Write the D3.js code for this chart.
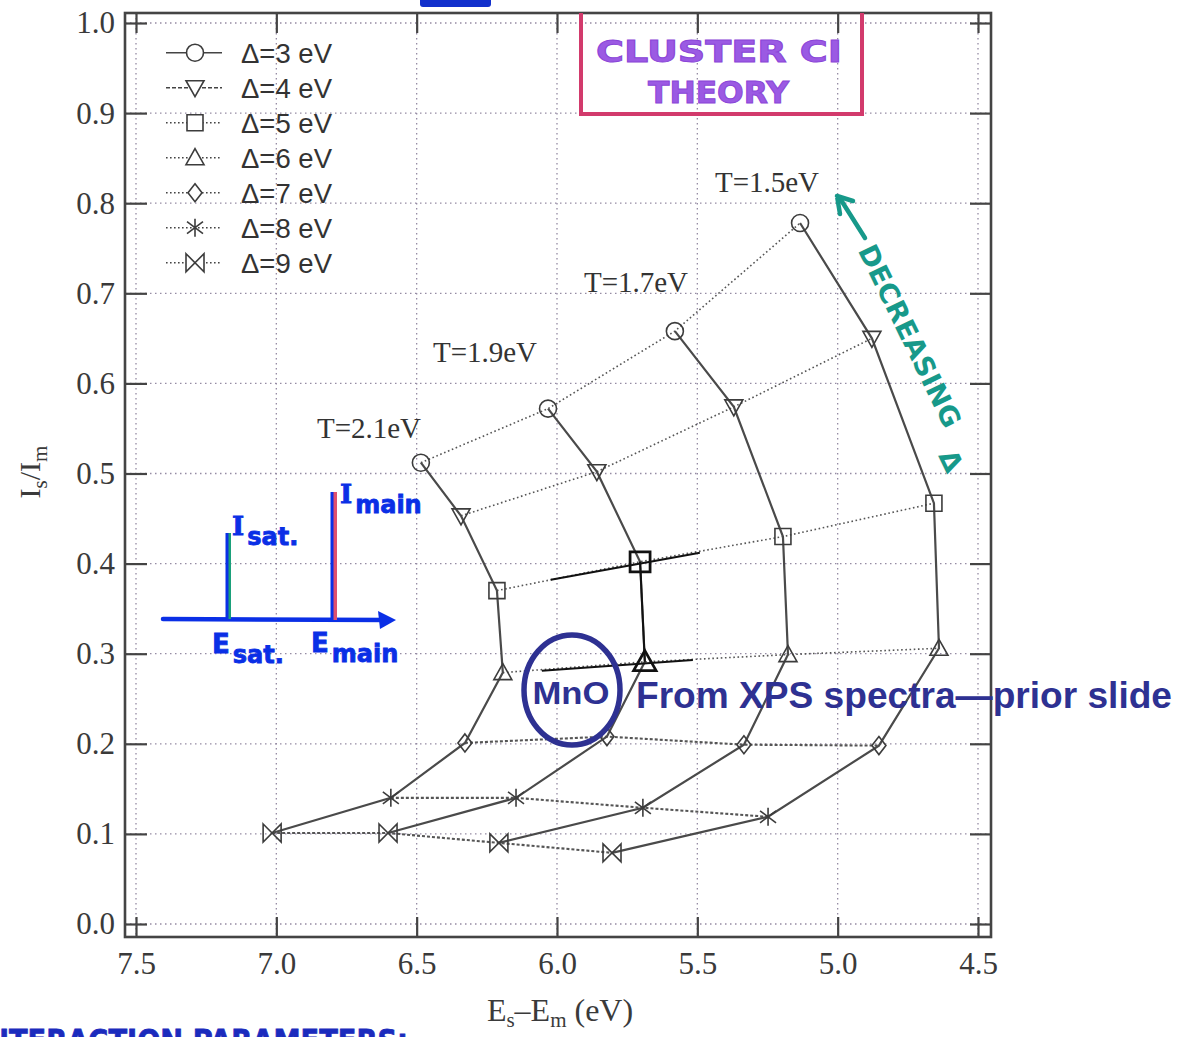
<!DOCTYPE html>
<html>
<head>
<meta charset="utf-8">
<script src="https://cdn.jsdelivr.net/npm/d3@7"></script>
<style>
  body { margin: 0; background: #fff; }
  svg { display: block; }
</style>
</head>
<body>
<svg id="chart"></svg>
<script>
// ---- data ----
const deltaLabels = ['Δ=3 eV', 'Δ=4 eV', 'Δ=5 eV', 'Δ=6 eV', 'Δ=7 eV', 'Δ=8 eV', 'Δ=9 eV'];
const tLabels = ['T=2.1eV', 'T=1.9eV', 'T=1.7eV', 'T=1.5eV'];

// Es-Em (eV) and Is/Im for Δ = 3..9, one pair of arrays per T
const splitT21 = [6.485, 6.342, 6.214, 6.193, 6.328, 6.592, 7.015];
const ratioT21 = [0.512, 0.453, 0.370, 0.279, 0.201, 0.140, 0.101];
const splitT19 = [6.032, 5.858, 5.704, 5.687, 5.822, 6.146, 6.602];
const ratioT19 = [0.572, 0.502, 0.402, 0.291, 0.208, 0.140, 0.101];
const splitT17 = [5.580, 5.370, 5.195, 5.177, 5.334, 5.694, 6.207];
const ratioT17 = [0.658, 0.574, 0.430, 0.299, 0.199, 0.129, 0.090];
const splitT15 = [5.134, 4.878, 4.657, 4.639, 4.853, 5.248, 5.804];
const ratioT15 = [0.778, 0.650, 0.467, 0.306, 0.198, 0.119, 0.079];

// hand-drawn MnO marks over the Δ=5 and Δ=6 lines
const mnoSplitD5 = [6.022, 5.491];
const mnoRatioD5 = [0.382, 0.412];
const mnoSplitD6 = [6.054, 5.516];
const mnoRatioD6 = [0.281, 0.293];

const xTicks = [7.5, 7.0, 6.5, 6.0, 5.5, 5.0, 4.5];
const yTicks = [0, 0.1, 0.2, 0.3, 0.4, 0.5, 0.6, 0.7, 0.8, 0.9, 1.0];

// ---- layout ----
const W = 1178, H = 1037;
const frame = { left: 125, right: 991, top: 13, bottom: 937 };
const ink = '#444';
const serif = '"Liberation Serif", "DejaVu Serif", serif';
const sans = '"Liberation Sans", Arial, sans-serif';
const hand = '"DejaVu Sans", sans-serif';

const svg = d3.select('#chart').attr('width', W).attr('height', H);

const x = d3.scaleLinear().domain([7.5, 4.5]).range([136, 978]);
const y = d3.scaleLinear().domain([0, 1]).range([924, 23]);

// grid
const grid = svg.append('g').attr('class', 'grid')
    .attr('stroke', '#958ba3').attr('stroke-width', 1.3).attr('stroke-dasharray', '1.5,3.5');
grid.selectAll('.gx').data(xTicks).enter().append('line')
    .attr('x1', d => x(d)).attr('x2', d => x(d))
    .attr('y1', frame.top).attr('y2', frame.bottom);
grid.selectAll('.gy').data(yTicks).enter().append('line')
    .attr('x1', frame.left).attr('x2', frame.right)
    .attr('y1', d => y(d)).attr('y2', d => y(d));

// axes (inward ticks on all four sides)
function styleAxis(g) {
    g.select('.domain').remove();
    g.selectAll('.tick line').attr('stroke', ink).attr('stroke-width', 2.2);
    g.selectAll('.tick text')
        .attr('fill', '#3a3a3a')
        .style('font-family', serif)
        .style('font-size', '31px');
}

svg.append('g')
    .attr('transform', `translate(0, ${frame.bottom})`)
    .call(d3.axisBottom(x).tickValues(xTicks).tickFormat(d3.format('.1f'))
        .tickSize(-20).tickPadding(15))
    .call(styleAxis);
svg.append('g')
    .attr('transform', `translate(0, ${frame.top})`)
    .call(d3.axisTop(x).tickValues(xTicks).tickFormat('').tickSize(-20))
    .call(styleAxis);
svg.append('g')
    .attr('transform', `translate(${frame.left}, 0)`)
    .call(d3.axisLeft(y).tickValues(yTicks).tickFormat(d3.format('.1f'))
        .tickSize(-22).tickPadding(10))
    .call(styleAxis);
svg.append('g')
    .attr('transform', `translate(${frame.right}, 0)`)
    .call(d3.axisRight(y).tickValues(yTicks).tickFormat('').tickSize(-21))
    .call(styleAxis);

svg.append('rect')
    .attr('x', frame.left).attr('y', frame.top)
    .attr('width', frame.right - frame.left).attr('height', frame.bottom - frame.top)
    .attr('fill', 'none').attr('stroke', ink).attr('stroke-width', 2.6);

// axis titles
const xTitle = svg.append('text')
    .attr('x', 560).attr('y', 1021).attr('text-anchor', 'middle')
    .attr('fill', '#3a3a3a').style('font-family', serif).style('font-size', '32px');
xTitle.append('tspan').text('E');
xTitle.append('tspan').attr('dy', 6).style('font-size', '21px').text('s');
xTitle.append('tspan').attr('dy', -6).text('–E');
xTitle.append('tspan').attr('dy', 6).style('font-size', '21px').text('m');
xTitle.append('tspan').attr('dy', -6).text(' (eV)');

const yTitle = svg.append('text')
    .attr('transform', 'translate(40, 472) rotate(-90)').attr('text-anchor', 'middle')
    .attr('fill', '#3a3a3a').style('font-family', serif).style('font-size', '30px');
yTitle.append('tspan').text('I');
yTitle.append('tspan').attr('dy', 7).style('font-size', '21px').text('s');
yTitle.append('tspan').attr('dy', -7).text('/I');
yTitle.append('tspan').attr('dy', 7).style('font-size', '21px').text('m');

// ---- markers ----
const markerPaths = [
    'M-8.5,0A8.5,8.5 0 1,1 8.5,0A8.5,8.5 0 1,1 -8.5,0Z', // circle
    'M-9,-7L9,-7L0,9Z',                                  // triangle down
    'M-8,-8H8V8H-8Z',                                    // square
    'M0,-9L9,7L-9,7Z',                                   // triangle up
    'M0,-9L7,0L0,9L-7,0Z',                               // diamond
    'M0,-9V9M-8,-6L8,6M-8,6L8,-6',                       // star
    'M-9,-9L9,9V-9L-9,9Z'                                // bowtie
];

const splits = [splitT21, splitT19, splitT17, splitT15];
const ratios = [ratioT21, ratioT19, ratioT17, ratioT15];
const tSeries = splits.map((xs, i) => xs.map((v, j) => ({ x: v, y: ratios[i][j], k: j })));

const line = d3.line().x(d => x(d.x)).y(d => y(d.y));
const plot = svg.append('g').attr('class', 'plot');

// Δ lines (across T), dotted
deltaLabels.forEach((lab, j) => {
    plot.append('path')
        .datum(tSeries.map(s => s[j]))
        .attr('d', line)
        .attr('fill', 'none')
        .attr('stroke', '#555')
        .attr('stroke-width', j >= 4 ? 2.1 : 1.6)
        .attr('stroke-dasharray', j >= 4 ? '3,2' : '1.6,2.6');
});

// T lines (across Δ), solid
tSeries.forEach(s => {
    plot.append('path')
        .datum(s)
        .attr('d', line)
        .attr('fill', 'none')
        .attr('stroke', '#4a4a4a')
        .attr('stroke-width', 2.2);
});

// hand-drawn black marks for the MnO estimate
const mno = svg.append('g').attr('stroke', '#111').attr('fill', 'none').attr('stroke-width', 2);
mno.append('path').datum(tSeries[1].slice(2, 4)).attr('d', line);
mno.append('path').datum(mnoSplitD5.map((v, i) => ({ x: v, y: mnoRatioD5[i] }))).attr('d', line);
mno.append('path').datum(mnoSplitD6.map((v, i) => ({ x: v, y: mnoRatioD6[i] }))).attr('d', line);

const isMno = (i, d) => i === 1 && (d.k === 2 || d.k === 3);
tSeries.forEach((s, i) => {
    plot.selectAll(null).data(s).enter().append('path')
        .attr('transform', d => `translate(${x(d.x)}, ${y(d.y)}) scale(${isMno(i, d) ? 1.25 : 1})`)
        .attr('d', d => markerPaths[d.k])
        .attr('fill', 'none')
        .attr('stroke', d => isMno(i, d) ? '#111' : '#3c3c3c')
        .attr('stroke-width', d => isMno(i, d) ? 2.2 : 1.6);
});

// T labels
const tLabelCenters = [[369, 438], [485, 362], [636, 292], [767, 192]];
svg.selectAll('.tlab').data(tLabels).enter().append('text')
    .attr('x', (d, i) => tLabelCenters[i][0])
    .attr('y', (d, i) => tLabelCenters[i][1])
    .attr('text-anchor', 'middle')
    .attr('fill', '#333')
    .style('font-family', serif).style('font-size', '29px')
    .text(d => d);

// ---- legend ----
const legend = svg.append('g').attr('class', 'legend');
const legendRows = legend.selectAll('g').data(deltaLabels).enter().append('g')
    .attr('transform', (d, i) => `translate(0, ${52.7 + i * 35})`);
legendRows.append('line')
    .attr('x1', 166).attr('x2', 222)
    .attr('stroke', '#444').attr('stroke-width', 1.6)
    .attr('stroke-dasharray', (d, i) => i === 0 ? null : i === 1 ? '4,2' : '1.6,2.4');
legendRows.append('path')
    .attr('transform', 'translate(195, 0)')
    .attr('d', (d, i) => markerPaths[i])
    .attr('fill', '#fff').attr('stroke', '#3c3c3c').attr('stroke-width', 1.6);
legendRows.append('text')
    .attr('x', 241).attr('dy', '0.36em')
    .attr('fill', '#333')
    .style('font-family', sans).style('font-size', '27.5px')
    .text(d => d);

// ---- hand annotations ----
// blue marker scrap at the top edge
svg.append('rect').attr('x', 420).attr('y', -4).attr('width', 71).attr('height', 11)
    .attr('rx', 3).attr('fill', '#1230cc');

// "CLUSTER CI THEORY" box
svg.append('path').attr('d', 'M581,13V114H862V13')
    .attr('fill', 'none').attr('stroke', '#d23a6c').attr('stroke-width', 4);
svg.append('text').attr('x', 596).attr('y', 62).attr('textLength', 246)
    .attr('lengthAdjust', 'spacingAndGlyphs')
    .attr('fill', '#9b5ae3').attr('stroke', '#8a45d8').attr('stroke-width', 1)
    .style('font-family', hand).style('font-weight', 'bold').style('font-size', '31px')
    .text('CLUSTER CI');
svg.append('text').attr('x', 648).attr('y', 103).attr('textLength', 141)
    .attr('lengthAdjust', 'spacingAndGlyphs')
    .attr('fill', '#9b5ae3').attr('stroke', '#8a45d8').attr('stroke-width', 1)
    .style('font-family', hand).style('font-weight', 'bold').style('font-size', '31px')
    .text('THEORY');

// "← DECREASING Δ"
const teal = '#17998a';
svg.append('line').attr('x1', 865).attr('y1', 238).attr('x2', 841).attr('y2', 200)
    .attr('stroke', teal).attr('stroke-width', 4.5).attr('stroke-linecap', 'round');
svg.append('path').attr('d', 'M837,196L840,214M837,196L853,201')
    .attr('stroke', teal).attr('stroke-width', 4.5).attr('stroke-linecap', 'round').attr('fill', 'none');
svg.append('text')
    .attr('transform', 'translate(866, 246) rotate(64)')
    .attr('dy', '0.35em').attr('textLength', 200).attr('lengthAdjust', 'spacingAndGlyphs')
    .attr('fill', teal)
    .style('font-family', hand).style('font-weight', 'bold').style('font-size', '27px')
    .text('DECREASING');
svg.append('text')
    .attr('transform', 'translate(951, 461) rotate(64)')
    .attr('text-anchor', 'middle').attr('dy', '0.35em')
    .attr('fill', teal)
    .style('font-family', hand).style('font-weight', 'bold').style('font-size', '27px')
    .text('Δ');

// spectrum sketch: E axis with satellite and main lines
const blue = '#0a2fe6';
svg.append('line').attr('x1', 163).attr('y1', 619).attr('x2', 388).attr('y2', 620)
    .attr('stroke', blue).attr('stroke-width', 4.5).attr('stroke-linecap', 'round');
svg.append('path').attr('d', 'M396,620L378,611L380,629Z').attr('fill', blue);
svg.append('line').attr('x1', 229).attr('y1', 533).attr('x2', 229).attr('y2', 619)
    .attr('stroke', '#1aa07a').attr('stroke-width', 4);
svg.append('line').attr('x1', 227).attr('y1', 533).attr('x2', 227).attr('y2', 619)
    .attr('stroke', blue).attr('stroke-width', 3);
svg.append('line').attr('x1', 335).attr('y1', 492).attr('x2', 335).attr('y2', 620)
    .attr('stroke', '#e0506e').attr('stroke-width', 4);
svg.append('line').attr('x1', 332).attr('y1', 492).attr('x2', 332).attr('y2', 620)
    .attr('stroke', blue).attr('stroke-width', 3);

function handLabel(big, small, x0, y0) {
    const t = svg.append('text').attr('x', x0).attr('y', y0)
        .attr('fill', blue).attr('stroke', blue).attr('stroke-width', 0.8)
        .style('font-family', hand).style('font-weight', 'bold').style('font-size', '26px');
    t.append('tspan').style('font-family', big === 'I' ? '"DejaVu Serif", serif' : hand).text(big);
    t.append('tspan').attr('dx', 3).attr('dy', 10).style('font-size', '24px').text(small);
}
handLabel('I', 'sat.', 232, 535);
handLabel('I', 'main', 340, 503);
handLabel('E', 'sat.', 212, 653);
handLabel('E', 'main', 311, 652);

// bottom note, cut off by the page edge as in the scan
svg.append('text').attr('x', -24).attr('y', 1051).attr('textLength', 432)
    .attr('lengthAdjust', 'spacingAndGlyphs')
    .attr('fill', '#1b2bbd').attr('stroke', '#1b2bbd').attr('stroke-width', 0.8)
    .style('font-family', hand).style('font-weight', 'bold').style('font-size', '31px')
    .text('INTERACTION PARAMETERS:');

// MnO ring and note
const navy = '#2e3192';
svg.append('ellipse').attr('cx', 572).attr('cy', 690).attr('rx', 48).attr('ry', 55)
    .attr('fill', 'none').attr('stroke', navy).attr('stroke-width', 5.5);
svg.append('text').attr('x', 571).attr('y', 704).attr('text-anchor', 'middle')
    .attr('textLength', 77).attr('lengthAdjust', 'spacingAndGlyphs')
    .attr('fill', navy)
    .style('font-family', sans).style('font-weight', 'bold').style('font-size', '31px')
    .text('MnO');
svg.append('text').attr('x', 636).attr('y', 708)
    .attr('textLength', 536).attr('lengthAdjust', 'spacingAndGlyphs')
    .attr('fill', navy)
    .style('font-family', sans).style('font-weight', 'bold').style('font-size', '36px')
    .text('From XPS spectra—prior slide');
</script>
</body>
</html>
